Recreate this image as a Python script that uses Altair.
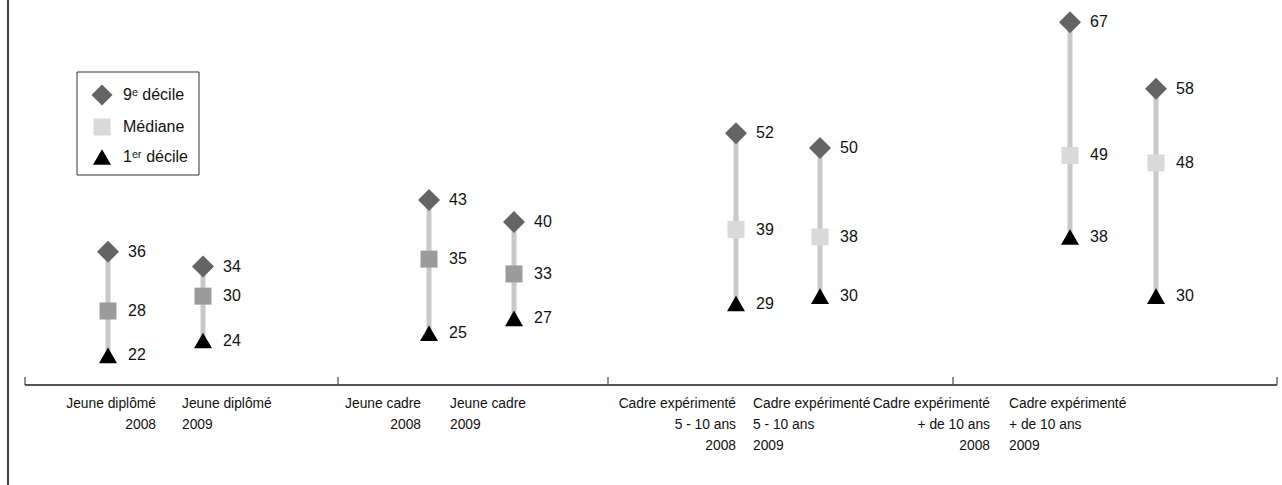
import altair as alt
import pandas as pd

# Salary ranges (k€) by profile and year: 1st decile, median, 9th decile
profiles = [
    "Jeune diplômé", "Jeune diplômé",
    "Jeune cadre", "Jeune cadre",
    "Cadre expérimenté\n5 - 10 ans", "Cadre expérimenté\n5 - 10 ans",
    "Cadre expérimenté\n+ de 10 ans", "Cadre expérimenté\n+ de 10 ans",
]
years = [2008, 2009, 2008, 2009, 2008, 2009, 2008, 2009]
decile9 = [36, 34, 43, 40, 52, 50, 67, 58]
median = [28, 30, 35, 33, 39, 38, 49, 48]
decile1 = [22, 24, 25, 27, 29, 30, 38, 30]
median_colors = ["#9b9b9b"] * 4 + ["#d9d9d9"] * 4

# horizontal slot of each profile/year on the category axis
x_slot = [83, 178, 404, 489, 711, 795, 1045, 1131]
# anchor of each category label (2008 right-aligned, 2009 left-aligned)
label_anchor = [131, 157, 396, 425, 711, 728, 965, 984]
# separators between profile groups
group_bounds = [0, 313, 583, 928, 1252]

W, H = 1252, 385
FONT = "Liberation Sans"

df = pd.DataFrame({
    "profile": profiles, "year": years, "x": x_slot,
    "d9": decile9, "med": median, "d1": decile1, "medcol": median_colors,
})
df["label"] = df["profile"] + "\n" + df["year"].astype(str)
df["anchor"] = label_anchor

xs = alt.Scale(domain=[0, W], nice=False, zero=False)
ys = alt.Scale(domain=[18, 70], nice=False, zero=False)
X = alt.X("x:Q", scale=xs, axis=None)

base = alt.Chart(df)

ranges = base.mark_rule(color="#c8c8c8", strokeWidth=5).encode(
    x=X, y=alt.Y("d1:Q", scale=ys, axis=None), y2="d9:Q"
)
top = base.mark_point(shape="diamond", filled=True, size=484, opacity=1,
                      color="#646464").encode(x=X, y=alt.Y("d9:Q", scale=ys))
mid = base.mark_point(shape="square", filled=True, size=289, opacity=1).encode(
    x=X, y=alt.Y("med:Q", scale=ys), color=alt.Color("medcol:N", scale=None)
)
bottom = base.mark_point(shape="triangle-up", filled=True, size=324, opacity=1,
                         color="#000000").encode(x=X, y=alt.Y("d1:Q", scale=ys))


def value_labels(field):
    return base.mark_text(align="left", baseline="middle", dx=20, font=FONT,
                          fontSize=16, color="#111111").encode(
        x=X, y=alt.Y(f"{field}:Q", scale=ys), text=alt.Text(f"{field}:Q")
    )


XA = alt.X("anchor:Q", scale=xs, axis=None)
cat_2008 = base.transform_filter("datum.year == 2008").mark_text(
    align="right", baseline="top", lineBreak="\n", lineHeight=21,
    font=FONT, fontSize=13.8, color="#111111"
).encode(x=XA, y=alt.value(397), text="label:N")
cat_2009 = base.transform_filter("datum.year == 2009").mark_text(
    align="left", baseline="top", lineBreak="\n", lineHeight=21,
    font=FONT, fontSize=13.8, color="#111111"
).encode(x=XA, y=alt.value(397), text="label:N")

# category axis line with upward separator ticks
bounds = pd.DataFrame({"b": group_bounds})
axis_line = alt.Chart(bounds).mark_rule(color="#555555", strokeWidth=1.3).encode(
    x=alt.value(0), x2=alt.value(W), y=alt.value(H)
)
seps = alt.Chart(bounds).mark_rule(color="#555555", strokeWidth=1.3).encode(
    x=alt.X("b:Q", scale=xs, axis=None), y=alt.value(H - 8), y2=alt.value(H)
)

# frame edge on the left
one = pd.DataFrame({"k": [0]})
left_edge = alt.Chart(one).mark_rule(color="#000000", strokeWidth=1.5).encode(
    x=alt.value(-17), y=alt.value(0), y2=alt.value(485)
)

# legend box
leg_box = alt.Chart(one).mark_rect(fill="white", stroke="#333333", strokeWidth=1).encode(
    x=alt.value(52), x2=alt.value(174), y=alt.value(72), y2=alt.value(175)
)
leg = pd.DataFrame({
    "name": ["9ᵉ décile", "Médiane", "1ᵉʳ décile"],
    "shape": ["diamond", "square", "triangle-up"],
    "col": ["#646464", "#d9d9d9", "#000000"],
    "size": [440, 289, 324],
    "py": [95, 127, 157],
})
leg_sym = alt.Chart(leg).mark_point(filled=True, opacity=1).encode(
    x=alt.value(77), y=alt.Y("py:Q", scale=None),
    shape=alt.Shape("shape:N", scale=None),
    color=alt.Color("col:N", scale=None),
    size=alt.Size("size:Q", scale=None),
)
leg_txt = alt.Chart(leg).mark_text(align="left", baseline="middle", font=FONT,
                                   fontSize=16, color="#111111").encode(
    x=alt.value(98), y=alt.Y("py:Q", scale=None), text="name:N"
)

chart = alt.layer(
    left_edge, axis_line, seps, ranges, top, mid, bottom,
    value_labels("d9"), value_labels("med"), value_labels("d1"),
    cat_2008, cat_2009, leg_box, leg_sym, leg_txt,
).properties(
    width=W, height=H,
    autosize=alt.AutoSizeParams(type="none"),
    padding={"left": 25, "top": 0, "right": 5, "bottom": 100},
    background="white",
).configure_view(stroke=None)

chart.save("out.html", embed_options={"renderer": "svg", "actions": False})
